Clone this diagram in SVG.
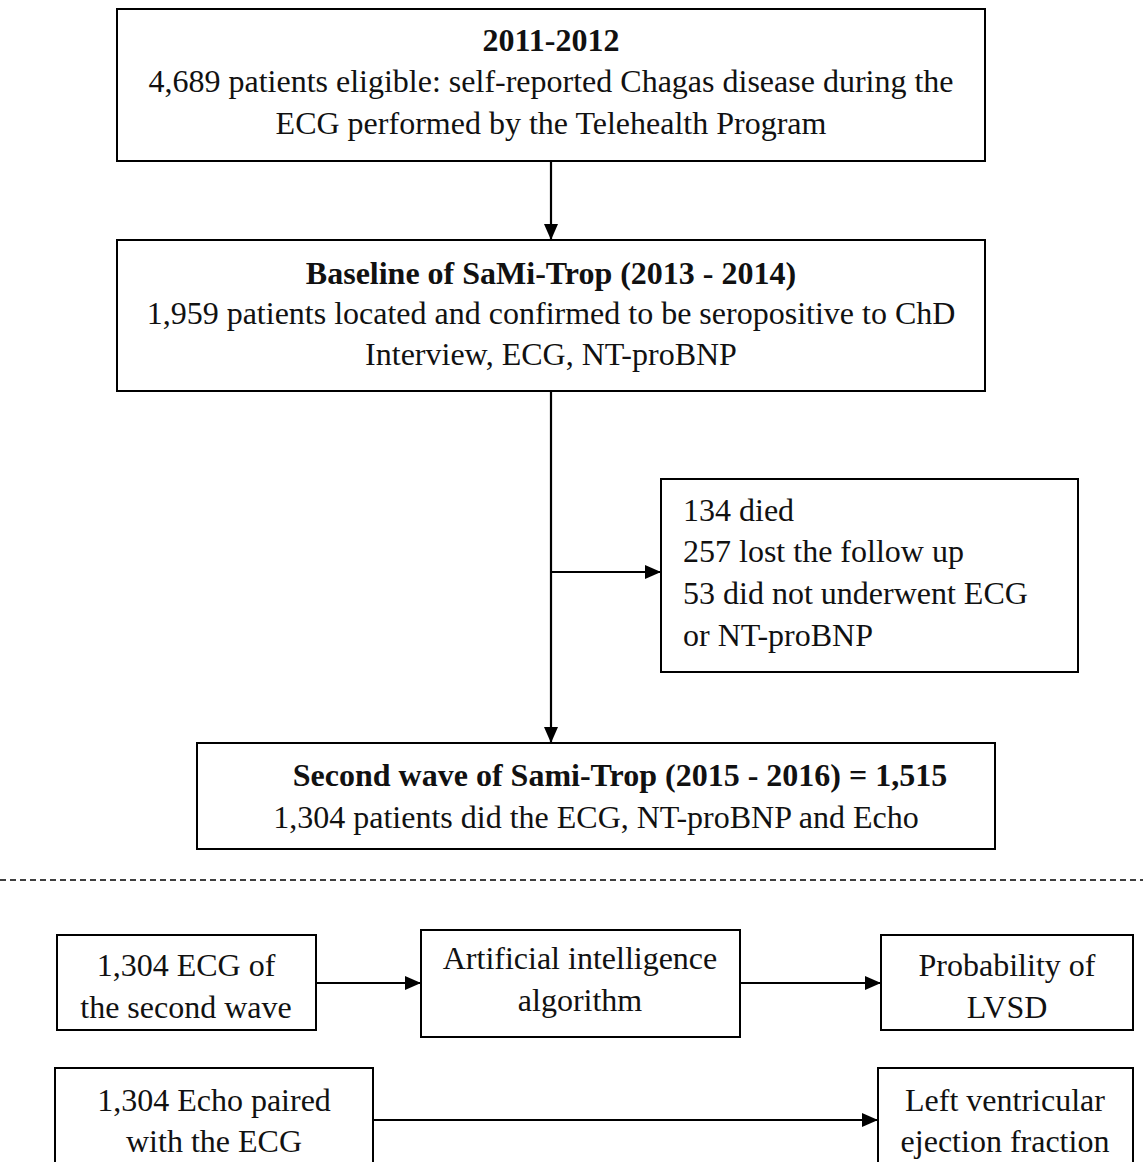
<svg xmlns="http://www.w3.org/2000/svg" width="1143" height="1162" viewBox="0 0 1143 1162">
<style>
.box{fill:#fff;stroke:#000;stroke-width:2}
text{font-family:"Liberation Serif","Times New Roman",serif;font-size:32px;fill:#111}
.c{text-anchor:middle}
.b{font-weight:bold}
.ln{stroke:#000;stroke-width:2.2;fill:none}
</style>
<defs>
<marker id="ah" markerWidth="16" markerHeight="14" refX="16" refY="7" orient="auto" markerUnits="userSpaceOnUse" viewBox="0 0 16 14">
<path d="M0,0 L16,7 L0,14 z" fill="#000"/>
</marker>
</defs>
<rect width="1143" height="1162" fill="#fff"/>
<g id="connectors">
<line class="ln" x1="551" y1="161" x2="551" y2="240" marker-end="url(#ah)"/>
<line class="ln" x1="551" y1="391" x2="551" y2="743" marker-end="url(#ah)"/>
<line class="ln" x1="551" y1="572" x2="661" y2="572" marker-end="url(#ah)"/>
<line class="ln" x1="316" y1="983" x2="421" y2="983" marker-end="url(#ah)"/>
<line class="ln" x1="740" y1="983" x2="881" y2="983" marker-end="url(#ah)"/>
<line class="ln" x1="373" y1="1120" x2="878" y2="1120" marker-end="url(#ah)"/>
<line x1="0" y1="880" x2="1143" y2="880" stroke="#000" stroke-width="1.5" stroke-dasharray="6,4"/>
</g>
<g id="n1">
<rect class="box" x="117" y="9" width="868" height="152"/>
<text class="c b" x="551" y="51">2011-2012</text>
<text class="c" x="551" y="92">4,689 patients eligible: self-reported Chagas disease during the</text>
<text class="c" x="551" y="134">ECG performed by the Telehealth Program</text>
</g>
<g id="n2">
<rect class="box" x="117" y="240" width="868" height="151"/>
<text class="c b" x="551" y="284">Baseline of SaMi-Trop (2013 - 2014)</text>
<text class="c" x="551" y="324">1,959 patients located and confirmed to be seropositive to ChD</text>
<text class="c" x="551" y="365">Interview, ECG, NT-proBNP</text>
</g>
<g id="n4">
<rect class="box" x="661" y="479" width="417" height="193"/>
<text x="683" y="521">134 died</text>
<text x="683" y="562">257 lost the follow up</text>
<text x="683" y="604">53 did not underwent ECG</text>
<text x="683" y="646">or NT-proBNP</text>
</g>
<g id="n3">
<rect class="box" x="197" y="743" width="798" height="106"/>
<text class="c b" x="620" y="786">Second wave of Sami-Trop (2015 - 2016) = 1,515</text>
<text class="c" x="596" y="828">1,304 patients did the ECG, NT-proBNP and Echo</text>
</g>
<g id="n5">
<rect class="box" x="57" y="935" width="259" height="95"/>
<text class="c" x="186" y="976">1,304 ECG of</text>
<text class="c" x="186" y="1018">the second wave</text>
</g>
<g id="n6">
<rect class="box" x="421" y="930" width="319" height="107"/>
<text class="c" x="580" y="969">Artificial intelligence</text>
<text class="c" x="580" y="1011">algorithm</text>
</g>
<g id="n7">
<rect class="box" x="881" y="935" width="252" height="95"/>
<text class="c" x="1007" y="976">Probability of</text>
<text class="c" x="1007" y="1018">LVSD</text>
</g>
<g id="n8">
<rect class="box" x="55" y="1068" width="318" height="110"/>
<text class="c" x="214" y="1111">1,304 Echo paired</text>
<text class="c" x="214" y="1152">with the ECG</text>
</g>
<g id="n9">
<rect class="box" x="878" y="1068" width="255" height="110"/>
<text class="c" x="1005" y="1111">Left ventricular</text>
<text class="c" x="1005" y="1152">ejection fraction</text>
</g>
</svg>
